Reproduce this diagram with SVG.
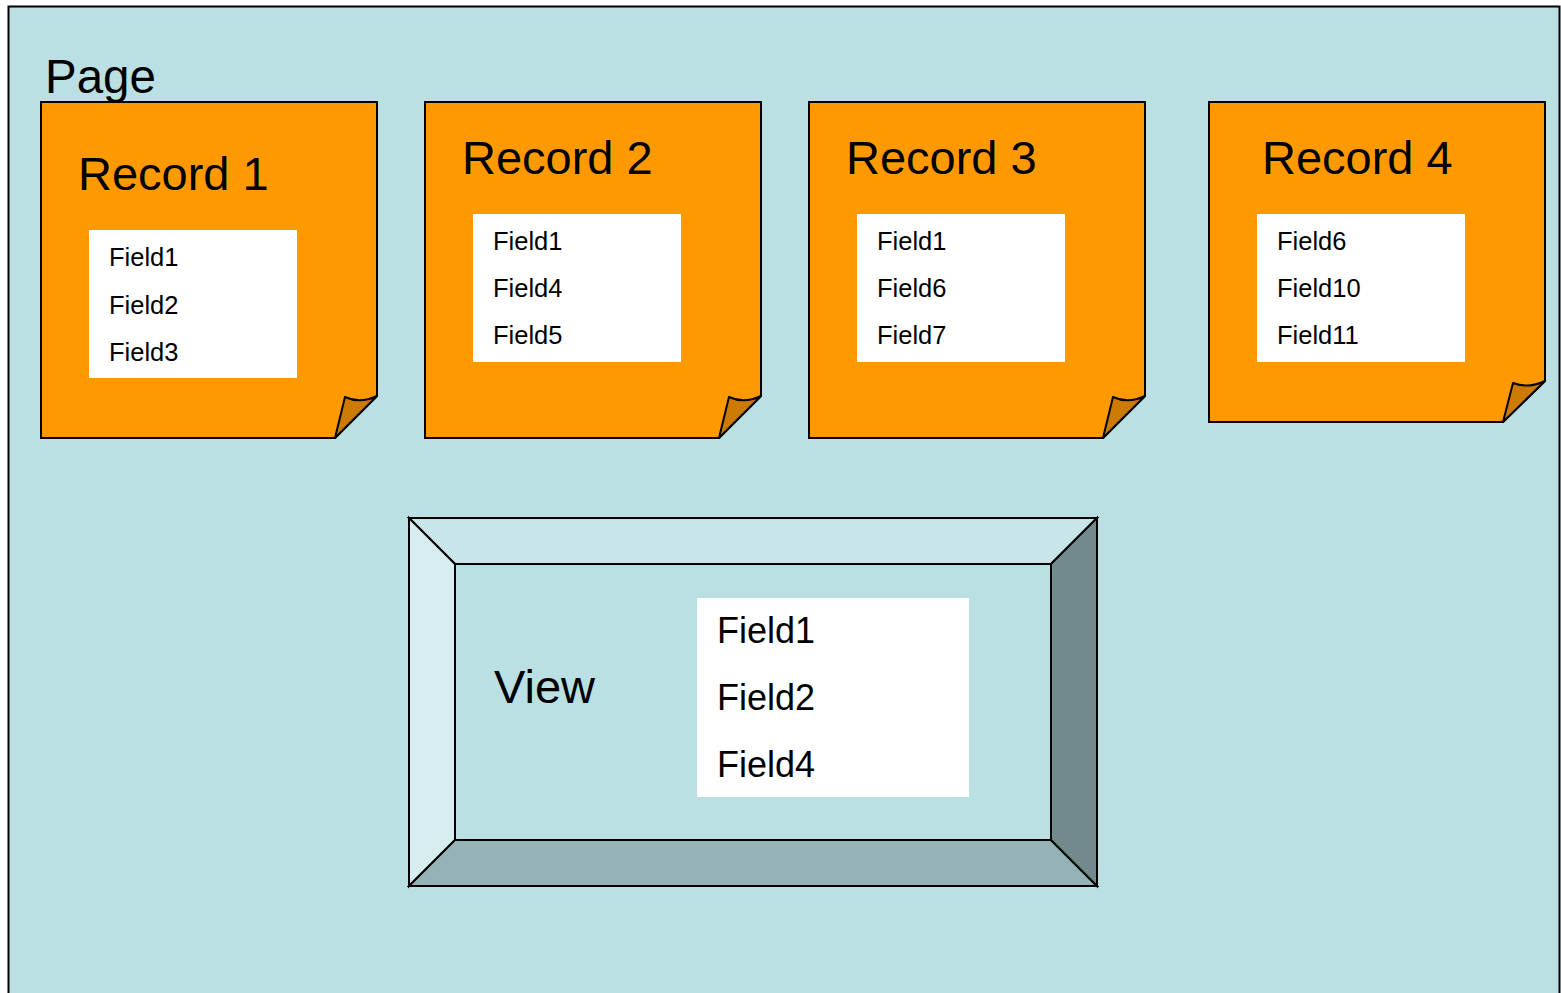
<svg xmlns="http://www.w3.org/2000/svg" width="1561" height="993" viewBox="0 0 1561 993">
<style>
text{font-family:"Liberation Sans",Arial,sans-serif;fill:#000}
.note{fill:#FF9900;stroke:#000;stroke-width:2}
.fold{fill:#CC7A00;stroke:#000;stroke-width:2;stroke-linejoin:round}
.box{fill:#fff}
.title{font-size:47px}
.fld{font-size:25.5px}
.vf{font-size:36px}
.bv{stroke:#000;stroke-width:2;stroke-linejoin:miter}
</style>
<rect x="8.5" y="6.5" width="1551" height="990" fill="#BAE0E3" stroke="#000" stroke-width="2"/>
<text x="45" y="93" style="font-size:47.5px">Page</text>

<g id="record1">
<path class="note" d="M41,102 H377 V396 L335,438 H41 Z"/>
<path class="fold" d="M335,438 L345,397 Q360,404 377,396 Z"/>
<rect class="box" x="89" y="230" width="208" height="148"/>
<text class="title" x="78" y="190">Record 1</text>
<text class="fld" x="109" y="266">Field1</text>
<text class="fld" x="109" y="314">Field2</text>
<text class="fld" x="109" y="361">Field3</text>
</g>

<g id="record2">
<path class="note" d="M425,102 H761 V396 L719,438 H425 Z"/>
<path class="fold" d="M719,438 L729,397 Q744,404 761,396 Z"/>
<rect class="box" x="473" y="214" width="208" height="148"/>
<text class="title" x="462" y="174">Record 2</text>
<text class="fld" x="493" y="250">Field1</text>
<text class="fld" x="493" y="297">Field4</text>
<text class="fld" x="493" y="344">Field5</text>
</g>

<g id="record3">
<path class="note" d="M809,102 H1145 V396 L1103,438 H809 Z"/>
<path class="fold" d="M1103,438 L1113,397 Q1128,404 1145,396 Z"/>
<rect class="box" x="857" y="214" width="208" height="148"/>
<text class="title" x="846" y="174">Record 3</text>
<text class="fld" x="877" y="250">Field1</text>
<text class="fld" x="877" y="297">Field6</text>
<text class="fld" x="877" y="344">Field7</text>
</g>

<g id="record4">
<path class="note" d="M1209,102 H1545 V381 L1503,422 H1209 Z"/>
<path class="fold" d="M1503,422 L1513,383 Q1528,389 1545,381 Z"/>
<rect class="box" x="1257" y="214" width="208" height="148"/>
<text class="title" x="1262" y="174">Record 4</text>
<text class="fld" x="1277" y="250">Field6</text>
<text class="fld" x="1277" y="297">Field10</text>
<text class="fld" x="1277" y="344">Field11</text>
</g>

<g id="view">
<polygon class="bv" fill="#C8E6E9" points="409,518 1097,518 1051,564 455,564"/>
<polygon class="bv" fill="#D7EDF0" points="409,518 455,564 455,840 409,886"/>
<polygon class="bv" fill="#95B3B6" points="409,886 455,840 1051,840 1097,886"/>
<polygon class="bv" fill="#718A8B" points="1097,518 1097,886 1051,840 1051,564"/>
<rect class="bv" fill="#BAE0E3" x="455" y="564" width="596" height="276"/>
<rect x="409" y="518" width="688" height="368" fill="none" stroke="#000" stroke-width="2"/>
<text x="494" y="703" style="font-size:47px">View</text>
<rect class="box" x="697" y="598" width="272" height="199"/>
<text class="vf" x="717" y="643">Field1</text>
<text class="vf" x="717" y="710">Field2</text>
<text class="vf" x="717" y="777">Field4</text>
</g>
<g id="connectors"></g>
</svg>
